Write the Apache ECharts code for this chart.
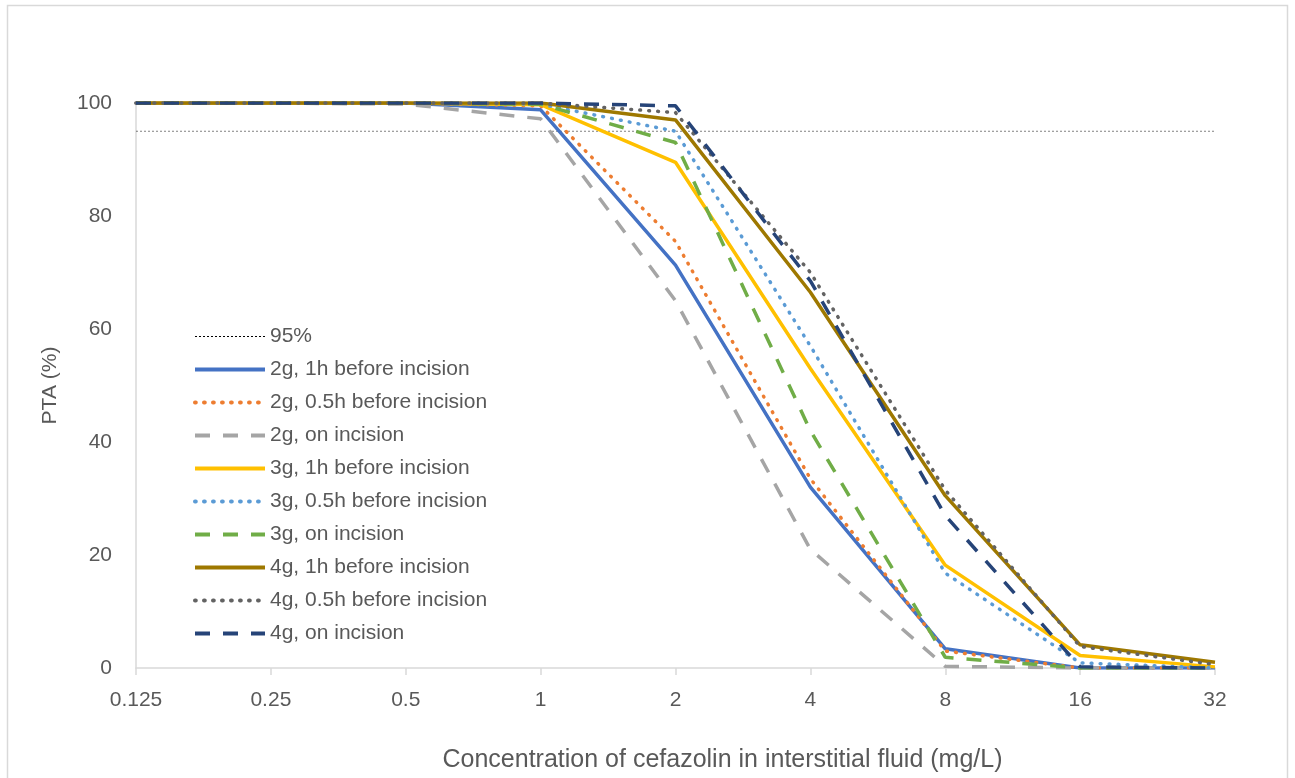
<!DOCTYPE html>
<html>
<head>
<meta charset="utf-8">
<script src="https://cdn.jsdelivr.net/npm/echarts@6/dist/echarts.min.js"></script>
<style>
  html, body { margin: 0; padding: 0; background: #fff; }
  #chart { width: 1295px; height: 778px; }
</style>
</head>
<body>
<div id="chart"></div>
<script>
// 浓度 (mg/L) - x轴类目
var concentrations = ['0.125', '0.25', '0.5', '1', '2', '4', '8', '16', '32'];
var yTicks = [0, 20, 40, 60, 80, 100];

// PTA (%) 各给药方案
var target95 = [95, 95, 95, 95, 95, 95, 95, 95, 95];
var g2_1h = [100, 100, 100, 98.8, 71.3, 32, 3.4, 0, 0];
var g2_05h = [100, 100, 100, 99.5, 75.5, 33.5, 3, 0, 0];
var g2_on = [100, 100, 99.8, 97.2, 65, 21, 0.3, 0, 0];
var g3_1h = [100, 100, 100, 99.7, 89.5, 53, 18.2, 2.2, 0.2];
var g3_05h = [100, 100, 100, 99.8, 95, 57, 16.8, 0.9, 0];
var g3_on = [100, 100, 100, 99.8, 93, 42, 1.9, 0, 0];
var g4_1h = [100, 100, 100, 100, 97, 66.5, 30.5, 4.1, 1.0];
var g4_05h = [100, 100, 100, 100, 98.3, 70, 31.5, 3.8, 0.6];
var g4_on = [100, 100, 100, 100, 99.5, 68.5, 27, 0.2, 0];

var seriesNames = ['95%', '2g, 1h before incision', '2g, 0.5h before incision', '2g, on incision',
    '3g, 1h before incision', '3g, 0.5h before incision', '3g, on incision',
    '4g, 1h before incision', '4g, 0.5h before incision', '4g, on incision'];

var FONT = 'Liberation Sans';
var TXT = '#595959';

var solid = 'solid';
var dotted = [0.8, 8.2];
var dashed = [15, 13];

var makeLine = function (name, data, color, type, width) {
    return {
        name: name,
        type: 'line',
        data: data,
        symbol: 'none',
        smooth: false,
        lineStyle: {
            color: color,
            width: width,
            type: type,
            cap: type === dotted ? 'round' : 'butt'
        },
        itemStyle: { color: color }
    };
};

// 图例线宽 (95% 细线, 其它粗线)
var legendData = [];
for (var i = 0; i < seriesNames.length; i++) {
    legendData.push({
        name: seriesNames[i],
        lineStyle: { width: i === 0 ? 1 : 4 }
    });
}

var myChart = echarts.init(document.getElementById('chart'));
var option = {
    backgroundColor: '#fff',
    animation: false,
    graphic: [{
        type: 'rect',
        shape: { x: 7.5, y: 5.5, width: 1280, height: 800 },
        style: { fill: 'none', stroke: '#d9d9d9', lineWidth: 1.5 },
        silent: true
    }],
    grid: { left: 136, right: 80, top: 103, bottom: 110, outerBoundsMode: 'none' },
    legend: {
        orient: 'vertical',
        left: 188,
        top: 321,
        itemWidth: 70,
        itemHeight: 14,
        itemGap: 12,
        itemStyle: { opacity: 0 },
        data: legendData,
        textStyle: { color: TXT, fontSize: 21, fontFamily: FONT, lineHeight: 20 }
    },
    xAxis: {
        type: 'category',
        data: concentrations,
        boundaryGap: false,
        name: 'Concentration of cefazolin in interstitial fluid (mg/L)',
        nameLocation: 'middle',
        nameGap: 80,
        nameTextStyle: { color: TXT, fontSize: 25, fontFamily: FONT, padding: [0, 0, 0, 94] },
        axisLine: { lineStyle: { color: '#d9d9d9', width: 1.5 } },
        axisTick: { show: true, length: 7, lineStyle: { color: '#d9d9d9', width: 1.5 } },
        axisLabel: { color: TXT, fontSize: 21, fontFamily: FONT, margin: 22 },
        splitLine: { show: false }
    },
    yAxis: {
        type: 'value',
        min: yTicks[0],
        max: yTicks[yTicks.length - 1],
        interval: 20,
        name: 'PTA (%)',
        nameLocation: 'middle',
        nameGap: 75,
        nameTextStyle: { color: TXT, fontSize: 21, fontFamily: FONT },
        axisLine: { show: true, lineStyle: { color: '#d9d9d9', width: 1.5 } },
        axisTick: { show: false },
        axisLabel: { color: TXT, fontSize: 21, fontFamily: FONT, margin: 24 },
        splitLine: { show: false }
    },
    series: [
        makeLine(seriesNames[0], target95, '#000000', [2, 2], 0.5),
        makeLine(seriesNames[1], g2_1h, '#4472C4', solid, 3.5),
        makeLine(seriesNames[2], g2_05h, '#ED7D31', dotted, 3.5),
        makeLine(seriesNames[3], g2_on, '#A5A5A5', dashed, 3.5),
        makeLine(seriesNames[4], g3_1h, '#FFC000', solid, 3.5),
        makeLine(seriesNames[5], g3_05h, '#5B9BD5', dotted, 3.5),
        makeLine(seriesNames[6], g3_on, '#70AD47', dashed, 3.5),
        makeLine(seriesNames[7], g4_1h, '#9E7800', solid, 3.5),
        makeLine(seriesNames[8], g4_05h, '#636363', dotted, 3.5),
        makeLine(seriesNames[9], g4_on, '#264478', dashed, 3.5)
    ]
};
myChart.setOption(option);
</script>
</body>
</html>
